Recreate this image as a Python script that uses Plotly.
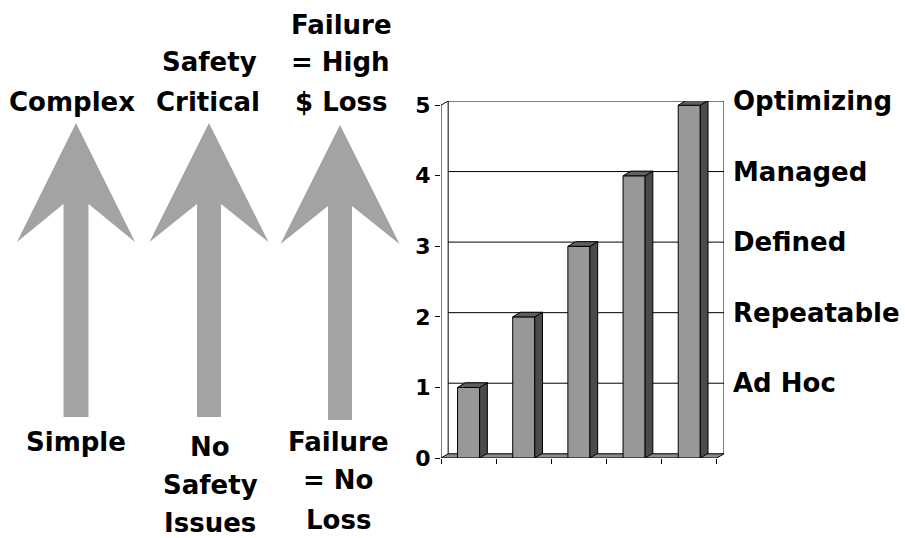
import plotly.graph_objects as go

# ---------------- data ----------------
maturity_levels = ["Ad Hoc", "Repeatable", "Defined", "Managed", "Optimizing"]
level_values = [1, 2, 3, 4, 5]
y_tick_values = [0, 1, 2, 3, 4, 5]
arrow_top_text = [["Complex"], ["Safety", "Critical"], ["Failure", "= High", "$ Loss"]]
arrow_bottom_text = [["Simple"], ["No", "Safety", "Issues"], ["Failure", "= No", "Loss"]]

# ---------------- style / geometry ----------------
W, H = 905, 538
L, R, T, B = 441, 724, 101, 458          # plot area in pixels
WALL_DX, WALL_DY = 0.13, 0.06             # depth of back wall (data units)
BAR_W = 0.4
BAR_DX, BAR_DY = 0.14, 0.066              # depth of bars
FONT = "DejaVu Sans"
FRONT, SIDE, TOP = "#989898", "#4b4b4b", "#5f5f5f"
FLOOR = "#8a8a8a"
ARROW = "#a3a3a3"

n = len(level_values)
xmax = n + WALL_DX
ymax = max(y_tick_values) + WALL_DY


def px(x):
    return (x - L) / (R - L)


def py(y):
    return (B - y) / (B - T)


fig = go.Figure()

# front faces of bars
centers = [i + 0.5 for i in range(n)]
fig.add_trace(go.Bar(
    x=centers, y=level_values, width=BAR_W,
    marker=dict(color=FRONT, line=dict(color="black", width=1)),
    hoverinfo="skip", showlegend=False,
))

# side and top faces
for c, v in zip(centers, level_values):
    x1 = c + BAR_W / 2
    x0 = c - BAR_W / 2
    fig.add_trace(go.Scatter(
        x=[x1, x1 + BAR_DX, x1 + BAR_DX, x1, x1],
        y=[0, BAR_DY, v + BAR_DY, v, 0],
        fill="toself", fillcolor=SIDE, mode="lines",
        line=dict(color="black", width=1), hoverinfo="skip", showlegend=False,
    ))
    fig.add_trace(go.Scatter(
        x=[x0, x1, x1 + BAR_DX, x0 + BAR_DX, x0],
        y=[v, v, v + BAR_DY, v + BAR_DY, v],
        fill="toself", fillcolor=TOP, mode="lines",
        line=dict(color="black", width=1), hoverinfo="skip", showlegend=False,
    ))

shapes = []
# floor
shapes.append(dict(
    type="path", xref="x", yref="y", layer="below",
    path=f"M 0,0 L {n},0 L {n + WALL_DX},{WALL_DY} L {WALL_DX},{WALL_DY} Z",
    fillcolor=FLOOR, line=dict(color="black", width=1),
))
# back wall gridlines
for k in y_tick_values[1:]:
    shapes.append(dict(type="line", xref="x", yref="y", layer="below",
                       x0=WALL_DX, x1=n + WALL_DX, y0=k + WALL_DY, y1=k + WALL_DY,
                       line=dict(color="black", width=1)))
# back wall edges
top = max(y_tick_values)
for xx in (WALL_DX, n + WALL_DX):
    shapes.append(dict(type="line", xref="x", yref="y", layer="below",
                       x0=xx, x1=xx, y0=WALL_DY, y1=top + WALL_DY,
                       line=dict(color="black", width=1)))
# left side wall (front axis and top diagonal)
shapes.append(dict(type="line", xref="x", yref="y", layer="below",
                   x0=0, x1=0, y0=0, y1=top, line=dict(color="black", width=1)))
shapes.append(dict(type="line", xref="x", yref="y", layer="below",
                   x0=0, x1=WALL_DX, y0=top, y1=top + WALL_DY,
                   line=dict(color="black", width=1)))

# big arrows (decoration, in pixel space)
arrows = [
    dict(tx=76, ty=123, hw=59, wy=242, ny=204, sw=12.5, by=417),
    dict(tx=209, ty=123, hw=59.5, wy=242, ny=204, sw=12, by=417),
    dict(tx=340, ty=125, hw=59.5, wy=244, ny=206, sw=12, by=420),
]
for a in arrows:
    pts = [
        (a["tx"] - a["sw"], a["by"]), (a["tx"] - a["sw"], a["ny"]),
        (a["tx"] - a["hw"], a["wy"]), (a["tx"], a["ty"]),
        (a["tx"] + a["hw"], a["wy"]), (a["tx"] + a["sw"], a["ny"]),
        (a["tx"] + a["sw"], a["by"]),
    ]
    path = "M " + " L ".join(f"{px(x):.5f},{py(y):.5f}" for x, y in pts) + " Z"
    shapes.append(dict(type="path", xref="paper", yref="paper", path=path,
                       fillcolor=ARROW, line=dict(width=0), layer="above"))

# arrow labels
top_pos = [
    [(71.5, 101.5)],
    [(209.5, 62.5), (207.5, 101.5)],
    [(341.5, 24.5), (340, 62.5), (341, 101.5)],
]
bottom_pos = [
    [(76, 441.5)],
    [(210, 446.5), (210, 484.5), (210, 522.5)],
    [(338, 441.5), (338, 479.5), (338, 519.5)],
]
annotations = []
for texts, poss in list(zip(arrow_top_text, top_pos)) + list(zip(arrow_bottom_text, bottom_pos)):
    for t, (x, y) in zip(texts, poss):
        annotations.append(dict(
            text=t, x=px(x), y=py(y), xref="paper", yref="paper",
            xanchor="center", yanchor="middle", showarrow=False,
            font=dict(family=FONT, size=26, color="black", weight="bold"),
        ))

fig.update_layout(
    template="none",
    width=W, height=H,
    margin=dict(l=L, r=W - R, t=T, b=H - B, pad=0),
    paper_bgcolor="white", plot_bgcolor="white",
    showlegend=False, shapes=shapes, annotations=annotations,
    xaxis=dict(range=[0, xmax], showgrid=False, zeroline=False, showline=False,
               automargin=False,
               tickvals=list(range(n + 1)), ticks="outside", ticklen=5,
               tickcolor="black", showticklabels=False, fixedrange=True),
    yaxis=dict(range=[0, ymax], showgrid=False, zeroline=False, showline=False,
               automargin=False,
               tickvals=y_tick_values, ticktext=[str(v) for v in y_tick_values],
               ticks="outside", ticklen=5, tickcolor="black",
               tickfont=dict(family=FONT, size=22, color="black", weight="bold"),
               fixedrange=True),
    yaxis2=dict(range=[0, ymax], overlaying="y", side="right", showgrid=False,
                zeroline=False, showline=False, automargin=False,
                tickvals=[v + WALL_DY for v in level_values], ticktext=maturity_levels,
                ticks="", ticklabelstandoff=8,
                tickfont=dict(family=FONT, size=26, color="black", weight="bold"),
                fixedrange=True),
)
# attach an invisible trace to yaxis2 so it renders
fig.add_trace(go.Scatter(x=[0], y=[0], yaxis="y2", mode="markers",
                         marker=dict(opacity=0), hoverinfo="skip", showlegend=False))

fig.write_html("out.html", config={"displayModeBar": False},
               post_script="document.body.style.margin='0px';")
